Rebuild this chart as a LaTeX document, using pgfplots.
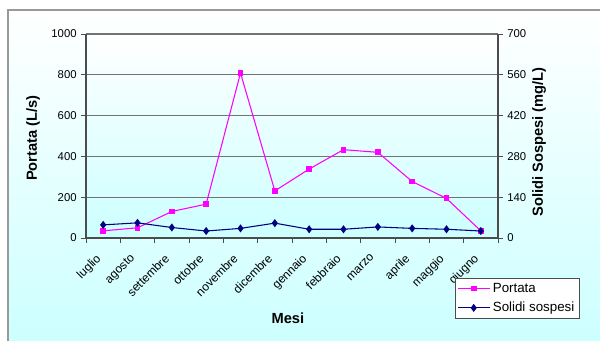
\documentclass[border=0pt]{standalone}
\usepackage{pgfplots}
\pgfplotsset{compat=1.18}
\usepackage{fontspec}
\setmainfont{Liberation Sans}
\definecolor{lcyan}{RGB}{204,255,255}
\definecolor{magen}{RGB}{255,0,255}
\definecolor{navyb}{RGB}{0,0,128}
\pgfplotsset{
  common/.style={
    at={(64.5pt,76.5pt)}, anchor=south west,
    scale only axis, width=309pt, height=153pt,
    xmin=-0.5, xmax=11.5,
    /pgf/number format/assume math mode=true,
    /pgf/number format/1000 sep={},
    every tick label/.append style={font=\fontsize{8.5}{10}\selectfont},
    tick align=outside,
    major tick length=3.5pt, minor tick length=3.5pt,
    every tick/.style={black!70, line width=0.6pt},
    axis line style={black!70, line width=0.8pt},
  }
}
\begin{document}
\begin{tikzpicture}
\path[use as bounding box] (0,0) rectangle (450pt,255pt);
\shade[top color=white,bottom color=lcyan] (6pt,-2pt) rectangle (452pt,247.5pt);
\draw[black!40,line width=1.2pt] (6pt,-2pt) -- (6pt,247.5pt) -- (452pt,247.5pt);
\begin{axis}[common,
  ymin=0, ymax=1000,
  axis x line*=bottom, axis y line*=left,
  axis background/.style={shade, top color=white, bottom color=lcyan},
  xtick={0,...,11},
  xticklabels={luglio,agosto,settembre,ottobre,novembre,dicembre,gennaio,febbraio,marzo,aprile,maggio,giugno},
  major x tick style={draw=none},
  minor xtick={-0.5,0.5,...,11.5},
  xticklabel style={xshift=-6pt, yshift=-3pt, rotate=45, anchor=north east, font=\fontsize{9}{10}\selectfont},
  ytick={0,200,...,1000},
  ymajorgrids, grid style={black!55, line width=0.8pt},
  xlabel={Mesi},
  xlabel style={at={(axis description cs:0.49,-0.392)}, anchor=center, font=\fontsize{11}{13}\selectfont\bfseries},
  ylabel={Portata (L/s)},
  ylabel style={at={(axis description cs:-0.1286,0.49)}, anchor=center, font=\fontsize{11}{13}\selectfont\bfseries},
]
\addplot[magen, line width=0.8pt, mark=square*, mark size=1.8pt, mark options={fill=magen}] coordinates {
(0,35) (1,50) (2,130) (3,166) (4,809) (5,231) (6,338) (7,433) (8,420) (9,277) (10,194) (11,35)};
\end{axis}
\begin{axis}[common,
  ymin=0, ymax=700,
  axis x line=none, axis y line*=right,
  ytick={0,140,...,700},
  ylabel={Solidi Sospesi (mg/L)},
  ylabel style={at={(axis description cs:1.0995,0.47)}, anchor=center, rotate=0, font=\fontsize{11}{13}\selectfont\bfseries},
  legend style={at={(axis description cs:0.8956,-0.196)}, anchor=north west, draw=black!70, fill=white,
    font=\fontsize{10}{12}\selectfont, inner sep=1.5pt, row sep=2pt},
  legend cell align=left,
  legend image code/.code={\draw[mark repeat=2,mark phase=2] plot coordinates {(0cm,0cm)(0.42cm,0cm)(0.84cm,0cm)};},
]
\addlegendimage{magen, line width=0.8pt, mark=square*, mark size=1.8pt, mark options={fill=magen}}
\addlegendentry{Portata}
\addplot[navyb, line width=0.8pt, mark=diamond*, mark size=2.4pt, mark options={fill=navyb}] coordinates {
(0,45) (1,52) (2,36) (3,24) (4,33) (5,51) (6,30) (7,30) (8,38) (9,33) (10,30) (11,24)};
\addlegendentry{Solidi sospesi}
\end{axis}
\end{tikzpicture}
\end{document}
